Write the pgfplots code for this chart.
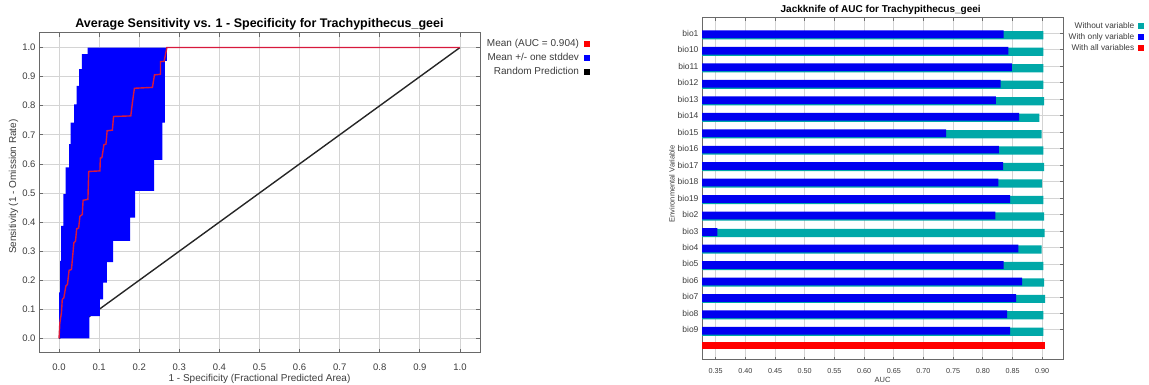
\documentclass[border=0pt]{standalone}
\usepackage{pgfplots}
\pgfplotsset{compat=1.18}
\usepackage{fontspec}
\setmainfont{Liberation Sans}
\definecolor{tealbar}{RGB}{0,168,168}
\definecolor{meanred}{RGB}{215,25,60}
\definecolor{framegray}{RGB}{105,105,105}
\definecolor{gridgray}{RGB}{212,212,212}
\definecolor{labgray}{RGB}{60,60,60}
\definecolor{bluebar}{RGB}{0,0,240}
\pgfplotsset{sqlegend/.style 2 args={legend image code/.code={\path (0pt,0pt); \fill[#1] (#2,-2.4pt) rectangle ([xshift=4.8pt]#2,2.4pt);}}}
\begin{document}
\begin{tikzpicture}[x=1pt,y=1pt]
\useasboundingbox (0,0) rectangle (1149,385);
% ---------------- Left: ROC ----------------
\begin{axis}[
  at={(39pt,32pt)}, anchor=south west, scale only axis,
  width=441pt, height=320pt,
  xmin=-0.05, xmax=1.05, ymin=-0.05, ymax=1.05,
  xtick={0,0.1,0.2,0.3,0.4,0.5,0.6,0.7,0.8,0.9,1.0},
  ytick={0,0.1,0.2,0.3,0.4,0.5,0.6,0.7,0.8,0.9,1.0},
  /pgf/number format/assume math mode=true,
  ticklabel style={/pgf/number format/fixed, /pgf/number format/fixed zerofill, /pgf/number format/precision=1,
    font=\fontsize{9.5}{10}\selectfont, text=labgray},
  xticklabel shift=7.5pt,
  grid=major, grid style={gridgray, line width=0.8pt},
  axis line style={framegray, line width=1pt},
  tick align=inside, tick pos=both, major tick length=4pt,
  tick style={framegray, line width=0.8pt},
  title={Average Sensitivity vs. 1 - Specificity for Trachypithecus\_geei},
  every axis title/.style={at={(axis description cs:0.5,1.028)}, anchor=center, font=\bfseries\fontsize{12.5}{14}\selectfont},
  xlabel={1 - Specificity (Fractional Predicted Area)},
  ylabel={Sensitivity (1 - Omission Rate)},
  every axis x label/.style={at={(axis description cs:0.5,-0.081)}, anchor=center, font=\fontsize{10}{11}\selectfont, text=labgray},
  every axis y label/.style={at={(axis description cs:-0.058,0.52)}, rotate=90, anchor=center, font=\fontsize{10}{11}\selectfont, text=labgray},
  legend style={at={(1.248,0.9875)}, anchor=north east, draw=none, fill=none,
    font=\fontsize{10}{11}\selectfont, text=labgray, row sep=1.2pt, inner sep=0pt},
  legend cell align=right, legend plot pos=right,
]
% random prediction
\addplot[forget plot, black!85, line width=1.4pt] coordinates {(0,0) (1,1)};
% mean +/- one stddev band
\addplot[forget plot, draw=none, fill=blue] coordinates {
 (0,0) (0,0.158) (0.0025,0.158) (0.0025,0.267) (0.005,0.267) (0.005,0.387)
 (0.011,0.387) (0.011,0.496) (0.0167,0.496) (0.0167,0.588) (0.025,0.588) (0.025,0.668)
 (0.029,0.668) (0.029,0.742) (0.0375,0.742) (0.0375,0.805) (0.044,0.805) (0.044,0.868)
 (0.050,0.868) (0.050,0.926) (0.057,0.926) (0.057,0.977) (0.071,0.977) (0.071,1.0)
 (0.269,1.0) (0.269,0.954) (0.264,0.954) (0.264,0.742) (0.258,0.742) (0.258,0.614)
 (0.237,0.614) (0.237,0.507) (0.190,0.507) (0.190,0.415) (0.177,0.415) (0.177,0.335)
 (0.135,0.335) (0.135,0.262) (0.119,0.262) (0.119,0.192) (0.110,0.192) (0.110,0.134)
 (0.102,0.134) (0.102,0.077) (0.0756,0.077) (0.0756,0) (0,0)
} -- cycle;
% mean
\addplot[forget plot, meanred, line width=1.4pt] coordinates {
 (0,0) (0.002,0.054) (0.006,0.088) (0.008,0.134) (0.012,0.140) (0.017,0.180)
 (0.021,0.186) (0.025,0.234) (0.031,0.237) (0.034,0.283) (0.037,0.329) (0.041,0.334)
 (0.044,0.377) (0.049,0.380) (0.052,0.420) (0.058,0.426) (0.060,0.475) (0.072,0.478)
 (0.074,0.574) (0.102,0.576) (0.103,0.620) (0.107,0.622) (0.112,0.666) (0.117,0.668)
 (0.120,0.714) (0.133,0.716) (0.136,0.763) (0.179,0.765) (0.183,0.811) (0.188,0.860)
 (0.233,0.863) (0.238,0.906) (0.253,0.908) (0.253,0.952) (0.262,0.952) (0.269,1.0)
 (1.0,1.0)
};
\addlegendimage{sqlegend={red}{3pt}}
\addlegendentry{Mean (AUC = 0.904)}
\addlegendimage{sqlegend={blue}{3pt}}
\addlegendentry{Mean +/- one stddev}
\addlegendimage{sqlegend={black}{3pt}}
\addlegendentry{Random Prediction}
\end{axis}
% ---------------- Right: Jackknife ----------------
\begin{axis}[
  at={(702pt,25pt)}, anchor=south west, scale only axis,
  width=361pt, height=342pt,
  xmin=0.327, xmax=0.935, ymin=-0.83, ymax=19.93,
  xtick={0.35,0.40,0.45,0.50,0.55,0.60,0.65,0.70,0.75,0.80,0.85,0.90},
  /pgf/number format/assume math mode=true,
  ytick={1,2,3,4,5,6,7,8,9,10,11,12,13,14,15,16,17,18,19},
  yticklabels={bio9,bio8,bio7,bio6,bio5,bio4,bio3,bio2,bio19,bio18,bio17,bio16,bio15,bio14,bio13,bio12,bio11,bio10,bio1},
  xticklabel style={/pgf/number format/fixed, /pgf/number format/fixed zerofill, /pgf/number format/precision=2,
    font=\fontsize{7.2}{9}\selectfont, text=labgray},
  yticklabel style={font=\fontsize{8.5}{9}\selectfont, text=labgray},
  xticklabel shift=4.5pt,
  grid=major, grid style={gridgray, line width=0.8pt},
  axis line style={framegray, line width=1pt},
  tick align=inside, tick pos=both, major tick length=3pt,
  tick style={framegray, line width=0.8pt},
  title={Jackknife of AUC for Trachypithecus\_geei},
  every axis title/.style={at={(axis description cs:0.495,1.023)}, anchor=center, font=\bfseries\fontsize{10}{11}\selectfont},
  xlabel={AUC},
  ylabel={Environmental Variable},
  every axis x label/.style={at={(axis description cs:0.5,-0.058)}, anchor=center, font=\fontsize{7.5}{9}\selectfont, text=labgray},
  every axis y label/.style={at={(axis description cs:-0.083,0.515)}, rotate=90, anchor=center, font=\fontsize{7.5}{9}\selectfont, text=labgray},
  legend style={at={(1.222,0.994)}, anchor=north east, draw=none, fill=none,
    font=\fontsize{8.3}{9}\selectfont, text=labgray, row sep=-0.6pt, inner sep=0pt},
  legend cell align=right, legend plot pos=right,
]
\addplot[forget plot, xbar, fill=tealbar, draw=none, bar width=0.5, bar shift=-0.12] coordinates {
 (0.902,19) (0.902,18) (0.902,17) (0.902,16) (0.903,15) (0.895,14) (0.899,13) (0.902,12)
 (0.903,11) (0.900,10) (0.902,9) (0.903,8) (0.904,7) (0.899,6) (0.902,5) (0.903,4)
 (0.905,3) (0.902,2) (0.902,1)
};
\addplot[forget plot, xbar, fill=bluebar, draw=none, bar width=0.47, bar shift=-0.06] coordinates {
 (0.835,19) (0.843,18) (0.849,17) (0.830,16) (0.822,15) (0.861,14) (0.738,13) (0.827,12)
 (0.834,11) (0.826,10) (0.846,9) (0.821,8) (0.353,7) (0.860,6) (0.835,5) (0.866,4)
 (0.856,3) (0.841,2) (0.846,1)
};
\addplot[forget plot, xbar, fill=red, draw=none, bar width=0.44, bar shift=0.06] coordinates {
 (0.904,0)
};
\addlegendimage{sqlegend={tealbar}{1.5pt}}
\addlegendentry{Without variable}
\addlegendimage{sqlegend={blue}{1.5pt}}
\addlegendentry{With only variable}
\addlegendimage{sqlegend={red}{1.5pt}}
\addlegendentry{With all variables}
\end{axis}
\end{tikzpicture}
\end{document}
